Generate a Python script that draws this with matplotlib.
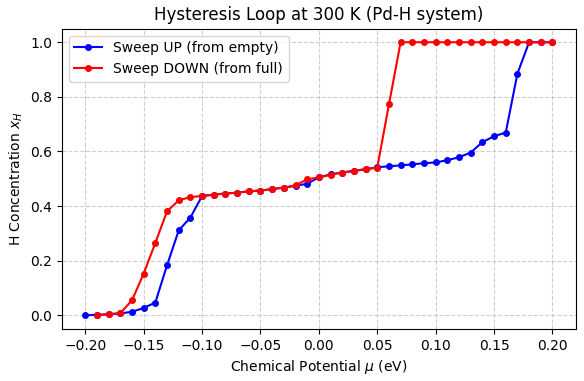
import numpy as np
import matplotlib
matplotlib.use("Agg")
from matplotlib import pyplot as plt

# potencial quimico (eV)
mu_up = [-0.20, -0.19, -0.18, -0.17, -0.16, -0.15, -0.14, -0.13, -0.12, -0.11,
         -0.10, -0.09, -0.08, -0.07, -0.06, -0.05, -0.04, -0.03, -0.02, -0.01,
         0.00, 0.01, 0.02, 0.03, 0.04, 0.05, 0.06, 0.07, 0.08, 0.09,
         0.10, 0.11, 0.12, 0.13, 0.14, 0.15, 0.16, 0.17, 0.18, 0.19, 0.20]
x_up = [0.000, 0.002, 0.004, 0.007, 0.013, 0.027, 0.047, 0.183, 0.311, 0.358,
        0.437, 0.442, 0.446, 0.449, 0.454, 0.457, 0.462, 0.468, 0.474, 0.482,
        0.505, 0.516, 0.523, 0.529, 0.535, 0.542, 0.546, 0.549, 0.553, 0.557,
        0.560, 0.568, 0.579, 0.596, 0.634, 0.656, 0.669, 0.885, 1.000, 1.000, 1.000]

mu_down = mu_up[1:]
x_down = [0.000, 0.004, 0.008, 0.055, 0.153, 0.265, 0.381, 0.421, 0.433,
          0.437, 0.442, 0.446, 0.449, 0.454, 0.457, 0.462, 0.468, 0.476, 0.498,
          0.505, 0.515, 0.523, 0.529, 0.535, 0.541, 0.772, 1.000, 1.000, 1.000,
          1.000, 1.000, 1.000, 1.000, 1.000, 1.000, 1.000, 1.000, 1.000, 1.000, 1.000]

fig = plt.figure(figsize=(5.84, 3.81), dpi=100)
plt.plot(mu_up, x_up, 'o-', color='blue', markersize=4, label='Sweep UP (from empty)')
plt.plot(mu_down, x_down, 'o-', color='red', markersize=4, label='Sweep DOWN (from full)')
plt.xlabel(r'Chemical Potential $\mu$ (eV)')
plt.ylabel(r'H Concentration $x_H$')
plt.title('Hysteresis Loop at 300 K (Pd-H system)')
plt.legend(loc='upper left')
plt.grid(linestyle='--', alpha=0.6)
plt.subplots_adjust(left=0.106, right=0.986, top=0.925, bottom=0.1365)
plt.savefig('out.png', dpi=100)
